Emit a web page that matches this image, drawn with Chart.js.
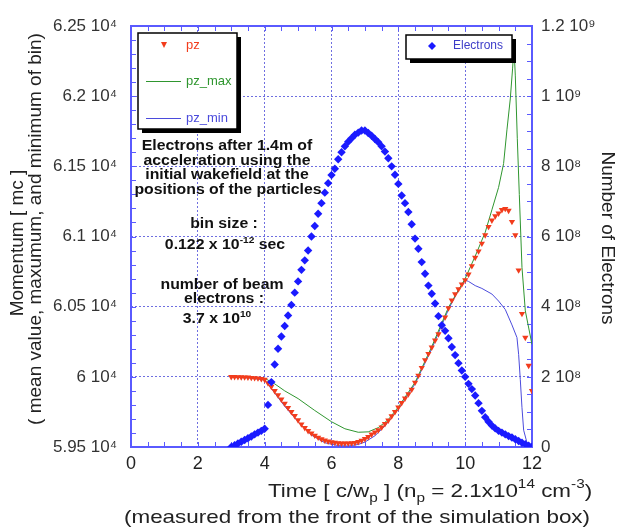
<!DOCTYPE html>
<html>
<head>
<meta charset="utf-8">
<script src="https://cdn.jsdelivr.net/npm/chart.js@4.4.1/dist/chart.umd.min.js"></script>
<style>
html, body { margin: 0; padding: 0; background: #fff; }
</style>
</head>
<body>
<canvas id="myChart" width="618" height="529"></canvas>
<script>
// time of each bin [c/wp]
var timeBins = [
  3.0, 3.1, 3.2, 3.3, 3.4, 3.5, 3.6, 3.7, 3.8, 3.9,
  4.0, 4.1, 4.2, 4.3, 4.4, 4.5, 4.6, 4.7, 4.8, 4.9,
  5.0, 5.1, 5.2, 5.3, 5.4, 5.5, 5.6, 5.7, 5.8, 5.9,
  6.0, 6.1, 6.2, 6.3, 6.4, 6.5, 6.6, 6.7, 6.8, 6.9,
  7.0, 7.1, 7.2, 7.3, 7.4, 7.5, 7.6, 7.7, 7.8, 7.9,
  8.0, 8.1, 8.2, 8.3, 8.4, 8.5, 8.6, 8.7, 8.8, 8.9,
  9.0, 9.1, 9.2, 9.3, 9.4, 9.5, 9.6, 9.7, 9.8, 9.9,
  10.0, 10.1, 10.2, 10.3, 10.4, 10.5, 10.6, 10.7, 10.8, 10.9,
  11.0, 11.1, 11.2, 11.3, 11.4, 11.5, 11.6, 11.7, 11.8, 11.9,
  12.0
];
// number of electrons in each bin
var electrons = [
  0.00e8, 0.05e8, 0.10e8, 0.15e8, 0.20e8, 0.25e8, 0.30e8, 0.36e8, 0.41e8, 0.46e8,
  0.52e8, 1.20e8, 1.85e8, 2.35e8, 2.80e8, 3.15e8, 3.45e8, 3.75e8, 4.05e8, 4.40e8,
  4.72e8, 5.05e8, 5.32e8, 5.60e8, 6.00e8, 6.30e8, 6.65e8, 6.95e8, 7.25e8, 7.52e8,
  7.75e8, 7.93e8, 8.20e8, 8.40e8, 8.57e8, 8.70e8, 8.80e8, 8.90e8, 8.96e8, 9.02e8,
  9.02e8, 8.95e8, 8.87e8, 8.78e8, 8.69e8, 8.57e8, 8.42e8, 8.23e8, 8.00e8, 7.76e8,
  7.50e8, 7.17e8, 6.95e8, 6.70e8, 6.35e8, 5.94e8, 5.65e8, 5.27e8, 4.94e8, 4.60e8,
  4.37e8, 4.09e8, 3.73e8, 3.47e8, 3.31e8, 3.10e8, 2.85e8, 2.62e8, 2.39e8, 2.18e8,
  2.00e8, 1.80e8, 1.65e8, 1.47e8, 1.25e8, 1.03e8, 0.85e8, 0.72e8, 0.61e8, 0.53e8,
  0.46e8, 0.41e8, 0.36e8, 0.31e8, 0.27e8, 0.22e8, 0.17e8, 0.12e8, 0.08e8, 0.04e8,
  0.01e8
];
// mean momentum of each bin [mc]
var pzMean = [
  60000, 60000, 59999, 59998, 59997, 59996, 59994, 59992, 59990, 59986,
  59980, 59955, 59930, 59900, 59870, 59840, 59810, 59780, 59751, 59722,
  59692, 59662, 59636, 59615, 59598, 59582, 59568, 59556, 59547, 59540,
  59535, 59531, 59528, 59526, 59526, 59527, 59528, 59530, 59537, 59546,
  59558, 59572, 59590, 59605, 59620, 59640, 59665, 59690, 59720, 59750,
  59783, 59815, 59847, 59877, 59910, 59960, 60010, 60065, 60120, 60165,
  60210, 60260, 60305, 60360, 60425, 60490, 60545, 60590, 60625, 60660,
  60690, 60730, 60790, 60850, 60895, 60950, 61010, 61070, 61115, 61145,
  61165, 61190, 61198, 61185, 61105, 61010, 60760, 60450, 60280, 60080,
  59900
];
// max momentum of bin
var pzMaxTime = [3.0, 3.5, 4.0, 4.3, 4.6, 5.0, 5.5, 6.0, 6.4, 6.8, 7.1, 7.4, 7.7, 8.0, 8.5, 9.0, 9.5, 10.0,
  10.3, 10.6, 10.8, 11.0, 11.15, 11.25, 11.35, 11.42, 11.46, 11.5, 11.56, 11.62, 11.7, 11.8, 12.0];
var pzMax = [60002, 60000, 59990, 59950, 59900, 59845, 59760, 59680, 59630, 59605, 59608, 59638, 59695, 59785, 59960, 60215, 60495, 60700,
  60860, 61030, 61190, 61350, 61520, 61760, 61980, 62200, 62350, 62150, 61700, 61300, 60780, 60470, 60230];
// min momentum of bin
var pzMinTime = [3.0, 3.5, 4.0, 4.3, 4.6, 5.0, 5.4, 5.8, 6.2, 6.5, 6.8, 7.0, 7.3, 7.6, 8.0, 8.5, 9.0, 9.5, 9.8, 10.0,
  10.1, 10.3, 10.5, 10.8, 11.0, 11.2, 11.4, 11.55, 11.6, 11.65, 11.7, 11.75, 11.85, 12.0];
var pzMin = [59998, 59993, 59978, 59885, 59790, 59680, 59585, 59530, 59510, 59507, 59518, 59535, 59580, 59650, 59770, 59950, 60200, 60480, 60620, 60690,
  60680, 60650, 60630, 60590, 60540, 60480, 60370, 60280, 60160, 59980, 59780, 59620, 59530, 59500];

var timeTicks = ['0', '2', '4', '6', '8', '10', '12'];
var momentumTicks = ['5.95 10\u2074', '6 10\u2074', '6.05 10\u2074', '6.1 10\u2074', '6.15 10\u2074', '6.2 10\u2074', '6.25 10\u2074'];
var electronTicks = ['0', '2 10\u2078', '4 10\u2078', '6 10\u2078', '8 10\u2078', '1 10\u2079', '1.2 10\u2079'];

var gridBlue = '#6f6fe0';
var frameBlue = '#5a5aff';
var fontFam = '"Liberation Sans", Arial, "DejaVu Sans", sans-serif';

function pairs(xs, ys) {
  return xs.map(function (t, i) { return { x: t, y: ys[i] }; });
}

// text with sub / superscripts, segs = [[text, 'sup'|'sub'|undefined], ...]
// stretch widens the text sideways like the scanned original
function richText(ctx, segs, x, y, opt) {
  var size = opt.size, small = opt.small || Math.round(size * 0.68);
  var weight = opt.bold ? 'bold ' : '';
  var stretch = opt.stretch || 1;
  var w = 0;
  segs.forEach(function (s) {
    ctx.font = weight + (s[1] ? small : size) + 'px ' + fontFam;
    w += ctx.measureText(s[0]).width;
  });
  w *= stretch;
  var x0 = opt.align === 'center' ? x - w / 2 : x;
  ctx.save();
  ctx.translate(x0, y);
  ctx.scale(stretch, 1);
  ctx.textAlign = 'left';
  ctx.textBaseline = 'alphabetic';
  var cx = 0;
  segs.forEach(function (s) {
    ctx.font = weight + (s[1] ? small : size) + 'px ' + fontFam;
    var dy = s[1] === 'sup' ? -size * 0.45 : (s[1] === 'sub' ? size * 0.28 : 0);
    ctx.fillText(s[0], cx, dy);
    cx += ctx.measureText(s[0]).width;
  });
  ctx.restore();
}

var framePlugin = {
  id: 'framePlugin',
  beforeDatasetsDraw: function (chart) {
    var ctx = chart.ctx, a = chart.chartArea;
    var sx = chart.scales.x, sy = chart.scales.y, sy1 = chart.scales.y1;
    ctx.save();
    ctx.strokeStyle = frameBlue;
    ctx.lineWidth = 1;
    ctx.beginPath();
    var t, px;
    for (t = 0.5; t < 12; t += 0.5) {
      px = Math.round(sx.getPixelForValue(t)) + 0.5;
      ctx.moveTo(px, a.bottom); ctx.lineTo(px, a.bottom - 5);
      ctx.moveTo(px, a.top); ctx.lineTo(px, a.top + 5);
    }
    for (t = 59600; t < 62500; t += 100) {
      px = Math.round(sy.getPixelForValue(t)) + 0.5;
      ctx.moveTo(a.left, px); ctx.lineTo(a.left + 5, px);
    }
    for (t = 0.5e8; t < 1.2e9; t += 0.5e8) {
      px = Math.round(sy1.getPixelForValue(t)) + 0.5;
      ctx.moveTo(a.right, px); ctx.lineTo(a.right - 5, px);
    }
    ctx.stroke();
    ctx.lineWidth = 2;
    ctx.strokeRect(a.left, a.top, a.right - a.left, a.bottom - a.top);
    ctx.restore();
  }
};

var textPlugin = {
  id: 'textPlugin',
  afterDatasetsDraw: function (chart) {
    var ctx = chart.ctx;
    var ds = chart.data.datasets;
    ctx.save();

    // legend boxes
    function box(x, y, w, h) {
      ctx.fillStyle = '#000';
      ctx.fillRect(x + 4, y + 4, w, h);
      ctx.fillStyle = '#fff';
      ctx.fillRect(x, y, w, h);
      ctx.strokeStyle = '#000';
      ctx.lineWidth = 1.5;
      ctx.strokeRect(x, y, w, h);
    }
    box(138, 33, 99, 96);
    ctx.font = '13px ' + fontFam;
    ctx.textBaseline = 'middle';
    ctx.textAlign = 'left';
    // pz
    ctx.fillStyle = ds[1].backgroundColor;
    ctx.beginPath();
    ctx.moveTo(161, 42); ctx.lineTo(167, 42); ctx.lineTo(164, 48); ctx.closePath();
    ctx.fill();
    ctx.fillText(ds[1].label, 186, 45);
    // pz_max
    ctx.strokeStyle = ds[2].borderColor;
    ctx.lineWidth = 1;
    ctx.beginPath(); ctx.moveTo(146, 81.5); ctx.lineTo(181, 81.5); ctx.stroke();
    ctx.fillStyle = ds[2].borderColor;
    ctx.fillText(ds[2].label, 186, 81);
    // pz_min
    ctx.strokeStyle = ds[3].borderColor;
    ctx.beginPath(); ctx.moveTo(146, 118.5); ctx.lineTo(181, 118.5); ctx.stroke();
    ctx.fillStyle = ds[3].borderColor;
    ctx.fillText(ds[3].label, 186, 118);

    box(406, 35, 106, 24);
    ctx.fillStyle = ds[0].backgroundColor;
    ctx.beginPath();
    ctx.moveTo(432, 42); ctx.lineTo(436, 46); ctx.lineTo(432, 50); ctx.lineTo(428, 46); ctx.closePath();
    ctx.fill();
    ctx.font = '12px ' + fontFam;
    ctx.fillStyle = '#3c3cc8';
    ctx.fillText(ds[0].label, 453, 46);

    // notes inside the plot
    ctx.fillStyle = '#111';
    var note = { size: 14, small: 9, bold: true, stretch: 1.13, align: 'center' };
    richText(ctx, [['Electrons after 1.4m of']], 227, 150, note);
    richText(ctx, [['acceleration using the']], 227, 165, note);
    richText(ctx, [['initial wakefield at the']], 227, 179, note);
    richText(ctx, [['positions of the particles']], 228, 194, note);
    richText(ctx, [['bin size :']], 224, 228, note);
    richText(ctx, [['0.122 x 10'], ['-12', 'sup'], [' sec']], 225, 249, note);
    richText(ctx, [['number of beam']], 222, 289, note);
    richText(ctx, [['electrons :']], 224, 303, note);
    richText(ctx, [['3.7 x 10'], ['10', 'sup']], 217, 323, note);

    // axis titles
    ctx.fillStyle = '#222';
    var title = { size: 19, small: 13, stretch: 1.18, align: 'left' };
    richText(ctx, [['Time [ c/w'], ['p', 'sub'], [' ] (n'], ['p', 'sub'], [' = 2.1x10'], ['14', 'sup'], [' cm'], ['-3', 'sup'], [')']], 268, 497, title);
    richText(ctx, [['(measured from the front of the simulation box)']], 124, 523, title);

    ctx.font = '19px ' + fontFam;
    ctx.textAlign = 'center';
    ctx.textBaseline = 'middle';
    ctx.save();
    ctx.translate(18, 243);
    ctx.rotate(-Math.PI / 2);
    ctx.fillText('Momentum [ mc ]', 0, 0);
    ctx.restore();
    ctx.save();
    ctx.translate(36, 229);
    ctx.rotate(-Math.PI / 2);
    ctx.fillText('( mean value, maxumum, and minimum of bin)', 0, 0);
    ctx.restore();
    ctx.save();
    ctx.translate(607, 238);
    ctx.rotate(Math.PI / 2);
    ctx.fillText('Number of Electrons', 0, 0);
    ctx.restore();

    ctx.restore();
  }
};

var myChart = document.getElementById('myChart').getContext('2d');
var chart = new Chart(myChart, {
  type: 'scatter',
  data: {
    datasets: [{
      label: 'Electrons',
      data: pairs(timeBins, electrons),
      yAxisID: 'y1',
      pointStyle: 'rectRot',
      pointRadius: 4.2,
      backgroundColor: '#1a1aff',
      borderColor: '#1a1aff',
      borderWidth: 0,
      showLine: false,
      order: 0
    }, {
      label: 'pz',
      data: pairs(timeBins, pzMean),
      yAxisID: 'y',
      pointStyle: 'triangle',
      rotation: 180,
      pointRadius: 3.6,
      backgroundColor: '#f23c1c',
      borderColor: '#f23c1c',
      borderWidth: 0,
      showLine: false,
      order: 1
    }, {
      label: 'pz_max',
      data: pairs(pzMaxTime, pzMax),
      yAxisID: 'y',
      showLine: true,
      pointRadius: 0,
      borderColor: '#2f962f',
      borderWidth: 1,
      order: 2
    }, {
      label: 'pz_min',
      data: pairs(pzMinTime, pzMin),
      yAxisID: 'y',
      showLine: true,
      pointRadius: 0,
      borderColor: '#4b4bdc',
      borderWidth: 1,
      order: 3
    }]
  },
  options: {
    responsive: false,
    animation: false,
    events: [],
    layout: { padding: { top: 26, left: 0, right: 0, bottom: 0 } },
    plugins: { legend: { display: false }, tooltip: { enabled: false } },
    scales: {
      x: {
        type: 'linear', min: 0, max: 12,
        afterFit: function (s) { s.height = 82; },
        ticks: {
          stepSize: 2, padding: 6, color: '#222',
          font: { size: 18, family: fontFam },
          callback: function (v, i) { return timeTicks[i]; }
        },
        grid: { color: gridBlue, lineWidth: 1, drawTicks: false },
        border: { display: false, dash: [2, 2] }
      },
      y: {
        position: 'left', min: 59500, max: 62500,
        afterFit: function (s) { s.width = 131; },
        ticks: {
          stepSize: 500, padding: 14, color: '#333',
          font: { size: 17, family: fontFam },
          callback: function (v, i) { return momentumTicks[i]; }
        },
        grid: { color: gridBlue, lineWidth: 1, drawTicks: false },
        border: { display: false, dash: [2, 2] }
      },
      y1: {
        position: 'right', min: 0, max: 1.2e9,
        afterFit: function (s) { s.width = 86; },
        ticks: {
          stepSize: 2e8, padding: 9, color: '#333',
          font: { size: 17, family: fontFam },
          callback: function (v, i) { return electronTicks[i]; }
        },
        grid: { drawOnChartArea: false, drawTicks: false },
        border: { display: false }
      }
    }
  },
  plugins: [framePlugin, textPlugin]
});
</script>
</body>
</html>
